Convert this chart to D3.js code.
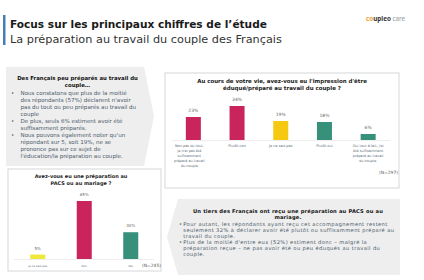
<!DOCTYPE html>
<html>
<head>
<meta charset="utf-8">
<script src="https://cdn.jsdelivr.net/npm/d3@7"></script>
<style>
  body { margin: 0; background: #fff; }
  svg { display: block; font-family: "DejaVu Sans", sans-serif; }
  .head { font-family: "Noto Sans", sans-serif; }
</style>
</head>
<body>
<svg id="chart" width="424" height="280"></svg>
<script>
// chart 1 data
const q1Categories = ["Non pas du tout", "Plutôt non", "Je ne sais pas", "Plutôt oui", "Oui tout à fait"];
const q1Values = [23, 34, 19, 18, 6];
const q1Labels = [
  ["Non pas du tout,", "je n'ai pas été", "suffisamment", "préparé au travail", "du couple"],
  ["Plutôt non"],
  ["Je ne sais pas"],
  ["Plutôt oui"],
  ["Oui tout à fait, j'ai", "été suffisamment", "préparé au travail", "du couple."]
];
const q1Colors = ["#c9245b", "#c9245b", "#f5c90f", "#36907a", "#36907a"];

// chart 2 data
const q2Categories = ["Je ne sais pas", "Non", "Oui"];
const q2Values = [5, 65, 30];
const q2Colors = ["#eee83a", "#c9245b", "#36907a"];

const leftTitle = ["Des Français peu préparés au travail du", "couple…"];
const leftBullets = [
  ["Nous constatons que plus de la moitié", "des répondants (57%) déclarent n'avoir", "pas du tout ou peu préparés au travail du", "couple"],
  ["De plus, seuls 6% estiment avoir été", "suffisamment préparés."],
  ["Nous pouvons également noter qu'un", "répondant sur 5, soit 19%, ne se", "prononce pas sur ce sujet de", "l'éducation/la préparation au couple."]
];
const rightTitle = ["Un tiers des Français ont reçu une préparation au PACS ou au", "mariage."];
const rightBullets = [
  ["Pour autant, les répondants ayant reçu cet accompagnement restent", "seulement 32% à déclarer avoir été plutôt ou suffisamment préparé au", "travail du couple."],
  ["Plus de la moitié d'entre eux (52%) estiment donc – malgré la", "préparation reçue – ne pas avoir été ou peu éduqués au travail du", "couple."]
];
const q1Title = ["Au cours de votre vie, avez-vous eu l'impression d'être", "éduqué/préparé au travail du couple ?"];
const q2Title = ["Avez-vous eu une préparation au", "PACS ou au mariage ?"];
const pageTitle = "Focus sur les principaux chiffres de l’étude";
const pageSubtitle = "La préparation au travail du couple des Français";

const svg = d3.select("#chart");

// measure a string, then size it so it spans the width seen on the slide
function measure(str, size, weight) {
  const t = svg.append("text").attr("font-size", size).attr("font-weight", weight).text(str);
  const w = t.node().getComputedTextLength();
  t.remove();
  return w;
}
function fit(str, weight, target, lh) {
  let fs = 10 * target / measure(str, 10, weight);
  let ls = 0;
  const cap = lh ? lh / 1.18 : Infinity;
  if (fs > cap) {
    fs = cap;
    ls = (target - measure(str, cap, weight)) / str.length;
  }
  return { fs, ls };
}

// header
svg.append("rect").attr("x", 3).attr("y", 15).attr("width", 2.5).attr("height", 30).attr("fill", "#4a7db3");
const h1 = fit(pageTitle, 700, 257, 15);
svg.append("text").attr("x", 10).attr("y", 27.5)
  .attr("font-size", h1.fs).attr("letter-spacing", h1.ls).attr("font-weight", 700).attr("fill", "#1a1a1a")
  .text(pageTitle);
const h2 = fit(pageSubtitle, 400, 272, 15);
svg.append("text").attr("x", 10).attr("y", 42.5)
  .attr("font-size", h2.fs).attr("letter-spacing", h2.ls).attr("fill", "#333")
  .text(pageSubtitle);

// logo
const logo = svg.append("text").attr("class", "head").attr("x", 366).attr("y", 21).attr("font-size", 6.3);
logo.append("tspan").attr("fill", "#e8a33a").attr("font-weight", 700).text("co");
logo.append("tspan").attr("fill", "#333").attr("font-weight", 700).text("upleo");
logo.append("tspan").attr("fill", "#999").text(" care");

// text boxes (chevrons)
svg.append("path")
  .attr("d", "M6,67 L144,67 L154,116 L144,166 L6,166 Z")
  .attr("fill", "#eeeeee");
svg.append("path")
  .attr("d", "M178,199 L400,199 L400,275 L178,275 L167,237 Z")
  .attr("fill", "#eeeeee");

function textBlock(o) {
  const t = svg.append("g");
  const tf = fit(o.title[0], 700, o.titleW, o.lh);
  o.title.forEach((l, i) => {
    t.append("text").attr("x", o.cx).attr("y", o.y + i * o.lh)
      .attr("text-anchor", "middle").attr("font-size", tf.fs).attr("font-weight", 700)
      .attr("letter-spacing", tf.ls).attr("fill", "#111").text(l);
  });
  const bf = fit(o.refLine, 400, o.bodyW, o.lh);
  let y = o.y + o.title.length * o.lh + 1;
  o.bullets.forEach(b => {
    t.append("text").attr("x", o.bx).attr("y", y).attr("font-size", bf.fs).attr("fill", "#4a5a6a").text("•");
    b.forEach(l => {
      t.append("text").attr("x", o.tx).attr("y", y).attr("font-size", bf.fs)
        .attr("letter-spacing", bf.ls).attr("fill", "#4a5a6a").text(l);
      y += o.lh;
    });
  });
}
textBlock({ cx: 77.5, bx: 11, tx: 20.5, y: 80, lh: 7, title: leftTitle, titleW: 121,
  bullets: leftBullets, refLine: leftBullets[0][2], bodyW: 116 });
textBlock({ cx: 288, bx: 179, tx: 183.3, y: 212.5, lh: 6.1, title: rightTitle, titleW: 190,
  bullets: rightBullets, refLine: rightBullets[0][1], bodyW: 211 });

// chart 1
svg.append("rect").attr("x", 165).attr("y", 73).attr("width", 234).attr("height", 115)
  .attr("fill", "#fff").attr("stroke", "#c8ccd0").attr("stroke-width", 0.8);
const t1 = fit(q1Title[0], 700, 170, 7.2);
q1Title.forEach((l, i) => {
  svg.append("text").attr("x", 282).attr("y", 83 + i * 7.2).attr("text-anchor", "middle")
    .attr("font-size", t1.fs).attr("letter-spacing", t1.ls).attr("font-weight", 700)
    .attr("fill", "#222").text(l);
});

const x1 = d3.scalePoint().domain(q1Categories).range([171.5, 390]).padding(0.5);
const y1 = d3.scaleLinear().domain([0, 34]).range([140, 106]);
const bw1 = 15;
const g1 = svg.append("g");
g1.selectAll("rect").data(q1Values).join("rect")
  .attr("x", (d, i) => x1(q1Categories[i]) - bw1 / 2)
  .attr("y", d => y1(d))
  .attr("width", bw1)
  .attr("height", d => y1(0) - y1(d))
  .attr("fill", (d, i) => q1Colors[i]);
const v1 = fit("34%", 400, 10);
g1.selectAll(".val").data(q1Values).join("text")
  .attr("class", "val")
  .attr("x", (d, i) => x1(q1Categories[i]))
  .attr("y", d => y1(d) - 5)
  .attr("text-anchor", "middle").attr("font-size", v1.fs).attr("fill", "#666")
  .text(d => d + "%");
svg.append("line").attr("x1", 172).attr("x2", 390).attr("y1", y1(0) + 0.5).attr("y2", y1(0) + 0.5)
  .attr("stroke", "#ddd").attr("stroke-width", 0.5);
const c1 = fit("Oui tout à fait, j'ai", 400, 31, 5.1);
q1Labels.forEach((lines, i) => {
  lines.forEach((l, j) => {
    svg.append("text").attr("x", x1(q1Categories[i]) - (i === 0 ? 4 : 0)).attr("y", 146.5 + j * 5.1)
      .attr("text-anchor", "middle").attr("font-size", c1.fs).attr("letter-spacing", c1.ls)
      .attr("fill", "#5a6a78").text(l);
  });
});
svg.append("text").attr("x", 398).attr("y", 174).attr("text-anchor", "end")
  .attr("font-size", fit("(N=297)", 400, 19).fs).attr("fill", "#555").text("(N=297)");

// chart 2
svg.append("rect").attr("x", 8).attr("y", 169).attr("width", 153).attr("height", 102)
  .attr("fill", "#fff").attr("stroke", "#c8ccd0").attr("stroke-width", 0.8);
const t2 = fit(q2Title[0], 700, 93, 7.3);
q2Title.forEach((l, i) => {
  svg.append("text").attr("x", 81).attr("y", 177.5 + i * 7.3).attr("text-anchor", "middle")
    .attr("font-size", t2.fs).attr("letter-spacing", t2.ls).attr("font-weight", 700)
    .attr("fill", "#222").text(l);
});
const x2 = d3.scalePoint().domain(q2Categories).range([14.5, 154]).padding(0.5);
const y2 = d3.scaleLinear().domain([0, 65]).range([259, 201]);
const bw2 = 15;
const g2 = svg.append("g");
g2.selectAll("rect").data(q2Values).join("rect")
  .attr("x", (d, i) => x2(q2Categories[i]) - bw2 / 2)
  .attr("y", d => y2(d))
  .attr("width", bw2)
  .attr("height", d => y2(0) - y2(d))
  .attr("fill", (d, i) => q2Colors[i]);
const v2 = fit("65%", 400, 9);
g2.selectAll(".val").data(q2Values).join("text")
  .attr("class", "val")
  .attr("x", (d, i) => x2(q2Categories[i]))
  .attr("y", d => y2(d) - 5)
  .attr("text-anchor", "middle").attr("font-size", v2.fs).attr("fill", "#666")
  .text(d => d + "%");
svg.append("line").attr("x1", 14).attr("x2", 154).attr("y1", y2(0) + 0.5).attr("y2", y2(0) + 0.5)
  .attr("stroke", "#ddd").attr("stroke-width", 0.5);
const c2 = fit("Je ne sais pas", 400, 19);
g2.selectAll(".cat").data(q2Categories).join("text")
  .attr("class", "cat")
  .attr("x", d => x2(d)).attr("y", 267)
  .attr("text-anchor", "middle").attr("font-size", c2.fs).attr("fill", "#5a6a78")
  .text(d => d);
svg.append("text").attr("x", 161).attr("y", 267).attr("text-anchor", "end")
  .attr("font-size", fit("(N=245)", 400, 19).fs).attr("fill", "#555").text("(N=245)");
</script>
</body>
</html>
